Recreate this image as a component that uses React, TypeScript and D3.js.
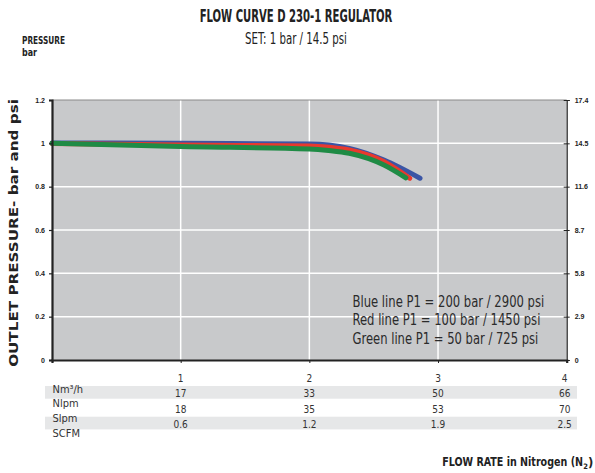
import React, { useRef, useEffect } from 'react';
import * as d3 from 'd3';

const barTicks = [0, 0.2, 0.4, 0.6, 0.8, 1, 1.2];
const psiTicks = ['0', '2.9', '5.8', '8.7', '11.6', '14.5', '17.4'];
const flowTicks = [1, 2, 3, 4];

// flow-rate table under the chart
const rowLabels = ['Nm³/h', 'Nlpm', 'Slpm', 'SCFM'];
const nlpmRow = ['17', '33', '50', '66'];
const slpmRow = ['18', '35', '53', '70'];
const scfmRow = ['0.6', '1.2', '1.9', '2.5'];

// curves: [Nm3/h, bar]
const blueLine = [[0, 1.002], [1, 1.0], [2, 0.997], [2.15, 0.992], [2.31, 0.977], [2.58, 0.923], [2.86, 0.839]];
const redLine = [[0, 0.999], [1, 0.992], [2, 0.988], [2.15, 0.982], [2.31, 0.969], [2.58, 0.915], [2.78, 0.839]];
const greenLine = [[0, 1.0], [1, 0.985], [2, 0.974], [2.15, 0.967], [2.31, 0.954], [2.58, 0.9], [2.75, 0.841]];

const legendLines = [
  'Blue line P1 = 200 bar / 2900 psi',
  'Red line P1 = 100 bar / 1450 psi',
  'Green line P1 = 50 bar / 725 psi',
];
const legendWidths = [192, 188, 186];

const NARROW = "'Liberation Sans Narrow', 'DejaVu Sans Condensed', 'Arial Narrow', sans-serif";
const SMALL = "'Liberation Sans', Arial, sans-serif";

// squeeze a text horizontally (around its anchor) so it is w pixels wide
function squeeze(sel, w) {
  const node = sel.node();
  const len = node.getComputedTextLength();
  if (!len) return;
  const k = w / len;
  const x = +sel.attr('x') || 0;
  const y = +sel.attr('y') || 0;
  sel.attr('transform', `translate(${x},${y}) scale(${k},1) translate(${-x},${-y})`);
}

function FlowCurve() {
  const svgRef = useRef(null);

  useEffect(() => {
    const svg = d3.select(svgRef.current);
    svg.selectAll('*').remove();

    const width = 595;
    const height = 473;
    const margin = { top: 100, right: 28.3, bottom: 113, left: 52 };

    const x = d3.scaleLinear().domain([0, 4]).range([margin.left, width - margin.right]);
    const y = d3.scaleLinear().domain([0, 1.2]).range([height - margin.bottom, margin.top]);

    // plot background
    svg.append('rect')
      .attr('x', x(0)).attr('y', y(1.2))
      .attr('width', x(4) - x(0)).attr('height', y(0) - y(1.2))
      .attr('fill', '#c8c9cb');

    // grid
    svg.append('g').selectAll('line')
      .data(barTicks.filter(d => d > 0 && d < 1.2))
      .enter().append('line')
      .attr('x1', x(0)).attr('x2', x(4))
      .attr('y1', d => y(d)).attr('y2', d => y(d))
      .attr('stroke', '#fff').attr('stroke-width', 1.5);
    svg.append('g').selectAll('line')
      .data([1, 2, 3])
      .enter().append('line')
      .attr('x1', d => x(d)).attr('x2', d => x(d))
      .attr('y1', y(0)).attr('y2', y(1.2))
      .attr('stroke', '#fff').attr('stroke-width', 1.5);

    // top border
    svg.append('line')
      .attr('x1', x(0)).attr('x2', x(4))
      .attr('y1', y(1.2)).attr('y2', y(1.2))
      .attr('stroke', '#8a8a8a').attr('stroke-width', 1);

    // curves
    const line = d3.line()
      .x(d => x(d[0]))
      .y(d => y(d[1]))
      .curve(d3.curveMonotoneX);
    [[blueLine, '#3b55a5'], [redLine, '#e8392e'], [greenLine, '#1f8b45']].forEach(([data, color]) => {
      svg.append('path')
        .datum(data)
        .attr('fill', 'none')
        .attr('stroke', color)
        .attr('stroke-width', 5)
        .attr('stroke-linecap', 'round')
        .attr('d', line);
    });

    // left axis (bar)
    const left = svg.append('g')
      .attr('transform', `translate(${x(0)},0)`)
      .call(d3.axisLeft(y).tickValues(barTicks).tickSize(3).tickPadding(4)
        .tickFormat(d => d3.format('~g')(d)));
    left.select('.domain').attr('stroke', '#222').attr('stroke-width', 2.2);
    left.selectAll('.tick line').attr('stroke', '#222').attr('stroke-width', 1.2);
    left.selectAll('text')
      .attr('font-family', SMALL).attr('font-size', 7).attr('font-weight', 'bold').attr('fill', '#222');

    // right axis (psi)
    const yPsi = d3.scalePoint().domain(psiTicks).range([y(0), y(1.2)]);
    const right = svg.append('g')
      .attr('transform', `translate(${x(4)},0)`)
      .call(d3.axisRight(yPsi).tickSize(3).tickPadding(5));
    right.select('.domain').attr('stroke', '#222').attr('stroke-width', 1.2);
    right.selectAll('.tick line').attr('x1', -3).attr('stroke', '#222').attr('stroke-width', 1);
    right.selectAll('text')
      .attr('font-family', SMALL).attr('font-size', 7).attr('font-weight', 'bold').attr('fill', '#222');

    // bottom axis
    const bottom = svg.append('g')
      .attr('transform', `translate(0,${y(0)})`)
      .call(d3.axisBottom(x).tickValues([1, 2, 3]).tickSize(3).tickFormat(() => ''));
    bottom.select('.domain').attr('stroke', '#222').attr('stroke-width', 2.2);
    bottom.selectAll('.tick line').attr('stroke', '#222').attr('stroke-width', 1);

    // table stripes
    svg.append('g').selectAll('rect')
      .data([0, 1])
      .enter().append('rect')
      .attr('x', 45).attr('width', 532)
      .attr('y', d => 386 + d * 30.7)
      .attr('height', 12.7)
      .attr('fill', '#e6e7e8');

    // table values
    const rows = [flowTicks.map(String), nlpmRow, slpmRow, scfmRow];
    const rowBase = [382, 397, 412.5, 427.5];
    rows.forEach((row, i) => {
      svg.append('g').selectAll('text')
        .data(row)
        .enter().append('text')
        .attr('x', (d, j) => x(flowTicks[j]) - (j === 3 ? 2 : 0))
        .attr('y', rowBase[i])
        .attr('text-anchor', 'middle')
        .attr('font-family', NARROW)
        .attr('font-size', 10)
        .attr('fill', '#333')
        .text(d => d);
    });

    svg.append('g').selectAll('text')
      .data(rowLabels)
      .enter().append('text')
      .attr('x', 52.5)
      .attr('y', (d, i) => 392.5 + i * 14.7)
      .attr('font-family', NARROW)
      .attr('font-size', 11)
      .attr('fill', '#333')
      .text(d => d);

    // legend
    legendLines.forEach((d, i) => {
      const t = svg.append('text')
        .attr('x', 352.5)
        .attr('y', 307 + i * 18.5)
        .attr('font-family', NARROW)
        .attr('font-size', 15.5)
        .attr('fill', '#2b2b2b')
        .text(d);
      squeeze(t, legendWidths[i]);
    });

    // titles
    squeeze(svg.append('text')
      .attr('x', 296).attr('y', 22.5)
      .attr('text-anchor', 'middle')
      .attr('font-family', NARROW).attr('font-size', 17).attr('font-weight', 'bold')
      .attr('fill', '#222')
      .text('FLOW CURVE D 230-1 REGULATOR'), 193);
    squeeze(svg.append('text')
      .attr('x', 296).attr('y', 44.5)
      .attr('text-anchor', 'middle')
      .attr('font-family', NARROW).attr('font-size', 16)
      .attr('fill', '#222')
      .text('SET: 1 bar / 14.5 psi'), 102);

    squeeze(svg.append('text')
      .attr('x', 22).attr('y', 44.5)
      .attr('font-family', NARROW).attr('font-size', 11).attr('font-weight', 'bold')
      .attr('fill', '#222')
      .text('PRESSURE'), 43);
    squeeze(svg.append('text')
      .attr('x', 22).attr('y', 56.5)
      .attr('font-family', NARROW).attr('font-size', 11).attr('font-weight', 'bold')
      .attr('fill', '#222')
      .text('bar'), 15);

    const yTitle = svg.append('g').attr('transform', `translate(18,233) rotate(-90)`);
    squeeze(yTitle.append('text')
      .attr('x', 0).attr('y', 0)
      .attr('text-anchor', 'middle')
      .attr('font-family', NARROW).attr('font-size', 12.5).attr('font-weight', 'bold')
      .attr('fill', '#222')
      .text('OUTLET PRESSURE- bar and psi'), 268);

    // x-axis title, with subscript 2 as its own text
    const xTitle = svg.append('g')
      .attr('font-family', NARROW).attr('font-weight', 'bold').attr('fill', '#222');
    squeeze(xTitle.append('text')
      .attr('x', 583).attr('y', 466.5)
      .attr('text-anchor', 'end')
      .attr('font-size', 13)
      .text('FLOW RATE in Nitrogen (N'), 141);
    xTitle.append('text')
      .attr('x', 583.3).attr('y', 468.5)
      .attr('font-size', 7.5)
      .text('2');
    xTitle.append('text')
      .attr('x', 588).attr('y', 466.5)
      .attr('font-size', 13)
      .text(')');
  }, []);

  return (
    <svg ref={svgRef} width={595} height={473} viewBox="0 0 595 473"
      style={{ position: 'absolute', left: 0, top: 0, background: '#fff' }} />
  );
}

export default function App() {
  return <FlowCurve />;
}
